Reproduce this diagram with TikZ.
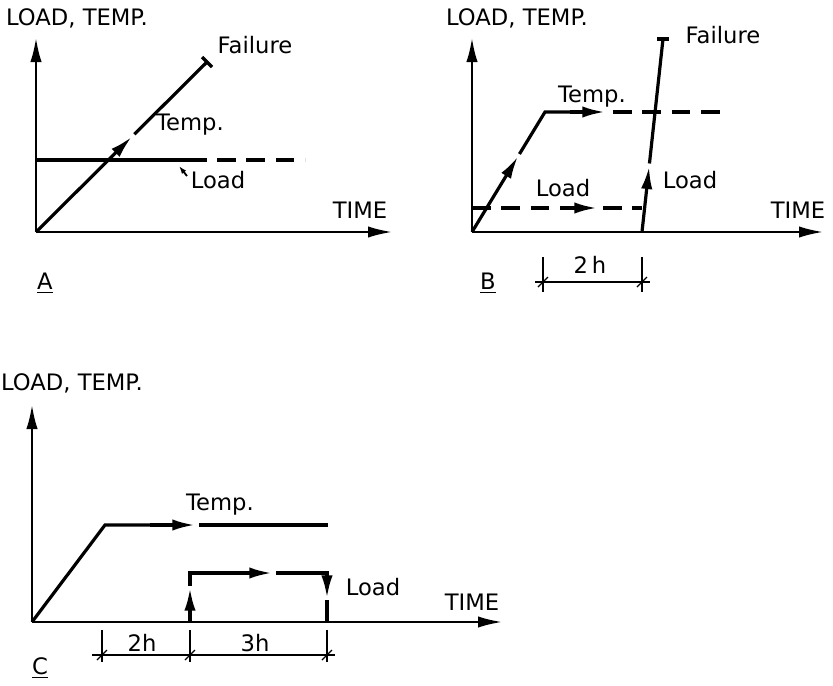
\documentclass[tikz,border=0pt]{standalone}
\usepackage{fontspec}
\setmainfont{DejaVu Sans}
\usetikzlibrary{arrows.meta, calc}

\begin{document}
\begin{tikzpicture}[
  x=0.75pt, y=-0.75pt,
  lbl/.style={font=\fontsize{17}{19}\selectfont, inner sep=1pt},
  axis/.style={line width=1.6pt, -{Latex[length=18pt, width=8.5pt]}},
  curve/.style={line width=2.4pt, line join=miter},
  flow/.style={line width=2.4pt, -{Latex[length=17pt, width=8.5pt]}},
  dashcurve/.style={line width=2.4pt, dash pattern=on 14pt off 8pt},
  dims/.style={line width=1pt}
]
\useasboundingbox (0,0) rectangle (833,686);

% Case A
\coordinate (oA) at (36,232);
\coordinate (yA) at (36,38);
\coordinate (xA) at (392,232);
\draw[axis] (oA) -- (yA);
\draw[axis] (oA) -- (xA);
\node[lbl] (axA) at (77,18) {LOAD, TEMP.};
\node[lbl] (timeA) at (360,210) {TIME};
\coordinate (failA) at (207,62);
\draw[flow] (oA) -- ($(oA)!0.56!(failA)$);
\draw[curve] ($(oA)!0.575!(failA)$) -- (failA);
\draw[curve] ($(failA)+(-5,-5)$) -- ($(failA)+(5,5)$);
\node[lbl] (failAl) at (255,45) {Failure};
\node[lbl] (tempA) at (190,125) {Temp.};
\coordinate (lA0) at (36,160);
\coordinate (lA1) at (207,160);
\coordinate (lA2) at (217,160);
\coordinate (lA3) at (305,160);
\draw[curve] (lA0) -- (lA1);
\draw[dashcurve] (lA2) -- (lA3);
\node[lbl] (loadA) at (218,180) {Load};
\coordinate (leadA) at (179,166);
\draw[line width=1.4pt, -{Latex[length=6pt, width=4pt]}] (187,176) -- (leadA);
\node[lbl] (capA) at (45,283) {\underline{A}};

% Case B
\coordinate (oB) at (472,232);
\coordinate (yB) at (472,38);
\coordinate (xB) at (823,232);
\draw[axis] (oB) -- (yB);
\draw[axis] (oB) -- (xB);
\node[lbl] (axB) at (517,18) {LOAD, TEMP.};
\node[lbl] (timeB) at (798,210) {TIME};
\coordinate (kneeB) at (545,112);
\coordinate (endB) at (722,112);
\draw[flow] (oB) -- ($(oB)!0.63!(kneeB)$);
\draw[curve] ($(oB)!0.65!(kneeB)$) -- (kneeB) -- (570,112);
\draw[flow] (570,112) -- (605,112);
\draw[dashcurve] (613,112) -- (endB);
\node[lbl] (tempB) at (592,97) {Temp.};
\coordinate (lB0) at (472,208);
\coordinate (lB1) at (642,208);
\draw[dashcurve, -{Latex[length=17pt, width=8.5pt]}] (lB0) -- (597,208);
\draw[dashcurve] (603,208) -- (lB1);
\node[lbl] (loadB) at (563,188) {Load};
\coordinate (upB) at (642,232);
\coordinate (failB) at (663,39);
\draw[flow] (upB) -- ($(upB)!0.34!(failB)$);
\draw[curve] ($(upB)!0.355!(failB)$) -- (failB);
\draw[curve] (657,39) -- (669,39);
\node[lbl] (failBl) at (723,35) {Failure};
\node[lbl] (loadB2) at (690,180) {Load};
\node[lbl] (capB) at (488,283) {\underline{B}};
\draw[dims] (535,282) -- (650,282);
\foreach \x in {543,642} {
  \draw[dims] (\x,257) -- (\x,292);
  \draw[dims] (\x-5,287) -- (\x+5,277);
}
\node[lbl] (dimB) at (590,265) {2\,h};

% Case C
\coordinate (oC) at (32,622);
\coordinate (yC) at (32,405);
\coordinate (xC) at (502,622);
\draw[axis] (oC) -- (yC);
\draw[axis] (oC) -- (xC);
\node[lbl] (axC) at (72,383) {LOAD, TEMP.};
\node[lbl] (timeC) at (472,602) {TIME};
\coordinate (kneeC) at (105,525);
\coordinate (endC) at (328,525);
\draw[curve] (oC) -- (kneeC) -- (150,525);
\draw[flow] (150,525) -- (195,525);
\draw[curve] (199,525) -- (endC);
\node[lbl] (tempC) at (220,505) {Temp.};
\coordinate (lC0) at (190,622);
\coordinate (lC1) at (190,573);
\coordinate (lC2) at (327,573);
\coordinate (lC3) at (327,622);
\draw[flow] (lC0) -- (190,588);
\draw[curve] (190,586) -- (lC1) -- (235,573);
\draw[flow] (235,573) -- (272,573);
\draw[curve] (276,573) -- (lC2) -- (327,582);
\draw[flow] (327,582) -- (327,598);
\draw[curve] (327,600) -- (lC3);
\node[lbl] (loadC) at (373,587) {Load};
\node[lbl] (capC) at (40,668) {\underline{C}};
\draw[dims] (92,655) -- (335,655);
\foreach \x in {102,190,327} {
  \draw[dims] (\x,630) -- (\x,662);
  \draw[dims] (\x-5,660) -- (\x+5,650);
}
\node[lbl] (dimC1) at (142,643) {2h};
\node[lbl] (dimC2) at (255,643) {3h};

\end{tikzpicture}
\end{document}
